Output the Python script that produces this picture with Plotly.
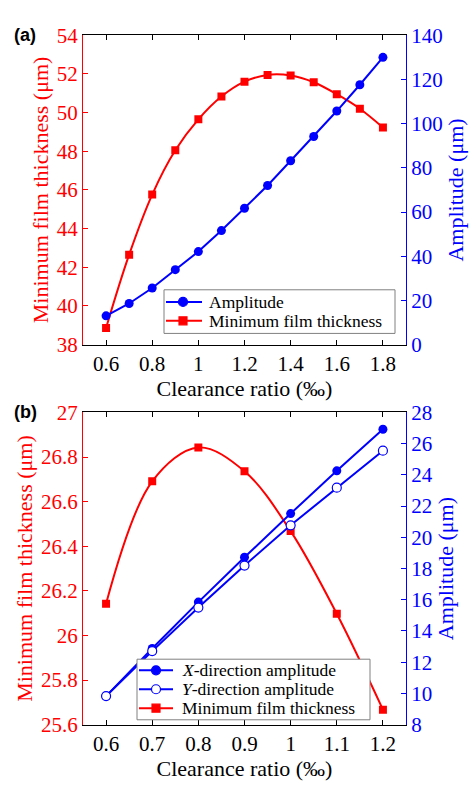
import plotly.graph_objects as go

# Panel (a): clearance ratio sweep 0.6-1.8 ‰
ratio_a = [0.6, 0.7, 0.8, 0.9, 1.0, 1.1, 1.2, 1.3, 1.4, 1.5, 1.6, 1.7, 1.8]
film_a = [38.86, 42.65, 45.76, 48.05, 49.65, 50.83, 51.6, 51.95, 51.92, 51.57, 50.95, 50.2, 49.23]
amp_a = [13.0, 18.6, 25.6, 33.9, 42.1, 51.6, 61.7, 72.0, 83.2, 94.2, 105.7, 117.6, 130.0]

# Panel (b): clearance ratio sweep 0.6-1.2 ‰
ratio_b = [0.6, 0.7, 0.8, 0.9, 1.0, 1.1, 1.2]
film_b = [26.142, 26.691, 26.843, 26.736, 26.468, 26.097, 25.667]
amp_x_b = [9.83, 12.88, 15.85, 18.72, 21.52, 24.26, 26.92]
amp_y_b = [9.83, 12.71, 15.5, 18.19, 20.77, 23.18, 25.55]

# Tick labels
xt_a = [0.6, 0.8, 1.0, 1.2, 1.4, 1.6, 1.8]
xt_a_txt = ["0.6", "0.8", "1", "1.2", "1.4", "1.6", "1.8"]
xt_b = [0.6, 0.7, 0.8, 0.9, 1.0, 1.1, 1.2]
xt_b_txt = ["0.6", "0.7", "0.8", "0.9", "1", "1.1", "1.2"]
yl_a = [38, 40, 42, 44, 46, 48, 50, 52, 54]
yr_a = [0, 20, 40, 60, 80, 100, 120, 140]
yl_b = [25.6, 25.8, 26.0, 26.2, 26.4, 26.6, 26.8, 27.0]
yl_b_txt = ["25.6", "25.8", "26", "26.2", "26.4", "26.6", "26.8", "27"]
yr_b = [8, 10, 12, 14, 16, 18, 20, 22, 24, 26, 28]

# Legend entries: (label, colour, symbol, filled)
legend_a = [("Amplitude", "#0000ff", "circle", True),
            ("Minimum film thickness", "#ff0000", "square", True)]
legend_b = [("<i>X</i>-direction amplitude", "#0000ff", "circle", True),
            ("<i>Y</i>-direction amplitude", "#0000ff", "circle", False),
            ("Minimum film thickness", "#ff0000", "square", True)]

RED = "#ff0000"
BLUE = "#0000ff"
SERIF = "Liberation Serif"
SANS = "Liberation Sans"
W, H = 476, 789
TICK = 21
TITLE = 22
LEG = 17.5

fig = go.Figure()

# ---- panel (a) ----
fig.add_trace(go.Scatter(x=ratio_a, y=amp_a, name="Amplitude", mode="lines+markers",
                         line=dict(color=BLUE, width=2), marker=dict(symbol="circle", size=9, color=BLUE),
                         xaxis="x", yaxis="y2", showlegend=False))
fig.add_trace(go.Scatter(x=ratio_a, y=film_a, name="Minimum film thickness", mode="lines+markers",
                         line=dict(color=RED, width=2, shape="spline", smoothing=1.0),
                         marker=dict(symbol="square", size=8, color=RED),
                         xaxis="x", yaxis="y", showlegend=False))

# ---- panel (b) ----
fig.add_trace(go.Scatter(x=ratio_b, y=amp_x_b, name="X-direction amplitude", mode="lines+markers",
                         line=dict(color=BLUE, width=2), marker=dict(symbol="circle", size=9, color=BLUE),
                         xaxis="x2", yaxis="y4", showlegend=False))
fig.add_trace(go.Scatter(x=ratio_b, y=amp_y_b, name="Y-direction amplitude", mode="lines+markers",
                         line=dict(color=BLUE, width=2),
                         marker=dict(symbol="circle", size=9, color="white", line=dict(color=BLUE, width=1.2)),
                         xaxis="x2", yaxis="y4", showlegend=False))
fig.add_trace(go.Scatter(x=ratio_b, y=film_b, name="Minimum film thickness", mode="lines+markers",
                         line=dict(color=RED, width=2, shape="spline", smoothing=1.0),
                         marker=dict(symbol="square", size=8, color=RED),
                         xaxis="x2", yaxis="y3", showlegend=False))

xdom = [83 / W, 406 / W]
dom_a = [1 - 343 / H, 1 - 24 / H]
dom_b = [1 - 735 / H, 1 - 413 / H]


def xax(rng, tv, tt, anchor):
    return dict(domain=xdom, range=rng, anchor=anchor, tickmode="array", tickvals=tv, ticktext=tt,
                ticks="inside", ticklen=5, tickcolor="black", showline=True, linecolor="black",
                linewidth=1, mirror="ticks", showgrid=False, zeroline=False,
                tickfont=dict(family=SERIF, size=TICK, color="black"),
                title=dict(text="Clearance ratio (‰)", font=dict(family=SERIF, size=TITLE, color="black"),
                           standoff=0))


def yax_left(dom, rng, tv, tt, anchor):
    return dict(domain=dom, range=rng, anchor=anchor, side="left", tickmode="array", tickvals=tv,
                ticktext=tt, ticks="inside", ticklen=5, tickcolor=RED, showline=True, linecolor=RED,
                linewidth=1, showgrid=False, zeroline=False,
                tickfont=dict(family=SERIF, size=TICK, color=RED),
                title=dict(text="Minimum film thickness (μm)", font=dict(family=SERIF, size=TITLE, color=RED),
                           standoff=2))


def yax_right(dom, rng, tv, anchor, overlay):
    return dict(domain=dom, range=rng, anchor=anchor, side="right", overlaying=overlay, tickmode="array",
                tickvals=tv, ticks="inside", ticklen=5, tickcolor=BLUE, showline=True, linecolor=BLUE,
                linewidth=1, showgrid=False, zeroline=False,
                tickfont=dict(family=SERIF, size=TICK, color=BLUE),
                title=dict(text="Amplitude (μm)", font=dict(family=SERIF, size=TITLE, color=BLUE), standoff=2))


shapes = []
annotations = []


def px_x(v):
    return v / W


def px_y(v):
    return 1 - v / H


def draw_legend(entries, box, line_x, marker_x, text_x, row_y):
    """Framed legend: box = (x0, y0, x1, y1) in page pixels, one row per entry."""
    x0, y0, x1, y1 = box
    shapes.append(dict(type="rect", xref="paper", yref="paper", x0=px_x(x0), x1=px_x(x1),
                       y0=px_y(y1), y1=px_y(y0), fillcolor="white",
                       line=dict(color="#808080", width=1), layer="above"))
    for (label, color, symbol, filled), yc in zip(entries, row_y):
        shapes.append(dict(type="line", xref="paper", yref="paper", x0=px_x(line_x[0]), x1=px_x(line_x[1]),
                           y0=px_y(yc), y1=px_y(yc), line=dict(color=color, width=2), layer="above"))
        half = 4.5 if symbol == "circle" else 4
        shapes.append(dict(type="circle" if symbol == "circle" else "rect",
                           xref="paper", yref="paper", xsizemode="pixel", ysizemode="pixel",
                           xanchor=px_x(marker_x), yanchor=px_y(yc),
                           x0=-half, x1=half, y0=-half, y1=half,
                           fillcolor=color if filled else "white",
                           line=dict(color=color, width=1.2), layer="above"))
        annotations.append(dict(text=label, x=px_x(text_x), y=px_y(yc), xref="paper", yref="paper",
                                xanchor="left", yanchor="middle", showarrow=False, borderpad=0,
                                font=dict(family=SERIF, size=LEG, color="black")))


draw_legend(legend_a, (164, 286.5, 395, 331.5), (166, 202), 183, 208, [299, 318.5])
draw_legend(legend_b, (137, 667.5, 370, 730), (139, 173), 156, 181, [679, 698.5, 718])

annotations.append(dict(text="<b>(a)</b>", x=px_x(12), y=px_y(11), xref="paper", yref="paper",
                        xanchor="left", yanchor="top", showarrow=False,
                        font=dict(family=SANS, size=18, color="black")))
annotations.append(dict(text="<b>(b)</b>", x=px_x(12), y=px_y(400), xref="paper", yref="paper",
                        xanchor="left", yanchor="top", showarrow=False,
                        font=dict(family=SANS, size=18, color="black")))

fig.update_layout(
    width=W, height=H, margin=dict(l=0, r=0, t=0, b=0),
    paper_bgcolor="white", plot_bgcolor="white", showlegend=False,
    xaxis=xax([0.5, 1.9], xt_a, xt_a_txt, "y"),
    yaxis=yax_left(dom_a, [38, 54], yl_a, [str(v) for v in yl_a], "x"),
    yaxis2=yax_right(dom_a, [0, 140], yr_a, "x", "y"),
    xaxis2=xax([0.55, 1.25], xt_b, xt_b_txt, "y3"),
    yaxis3=yax_left(dom_b, [25.6, 27.0], yl_b, yl_b_txt, "x2"),
    yaxis4=yax_right(dom_b, [8, 28], yr_b, "x2", "y3"),
    shapes=shapes,
    annotations=annotations,
)

fig.write_html("out.html")
